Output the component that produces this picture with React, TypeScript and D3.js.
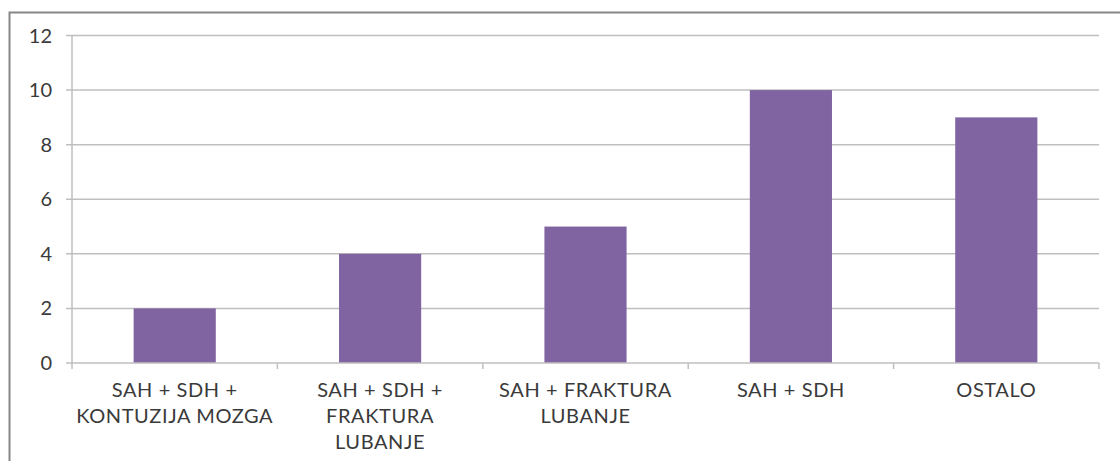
import React, { useRef, useEffect } from 'react';
import * as d3 from 'd3';

const categories = [
  ['SAH + SDH +', 'KONTUZIJA MOZGA'],
  ['SAH + SDH +', 'FRAKTURA', 'LUBANJE'],
  ['SAH + FRAKTURA', 'LUBANJE'],
  ['SAH + SDH'],
  ['OSTALO'],
];
const values = [2, 4, 5, 10, 9];
const yTicks = [0, 2, 4, 6, 8, 10, 12];

const WIDTH = 1120;
const HEIGHT = 461;

const App = () => {
  const svgRef = useRef<SVGSVGElement>(null);

  useEffect(() => {
    document.body.style.margin = '0';
    const svg = d3.select(svgRef.current);
    svg.selectAll('*').remove();

    const left = 72, right = 1099, top = 35.5, bottom = 363;
    const font = 'Lato, sans-serif';
    const textColor = '#3a3a3a';
    const gridColor = '#bfbfbf';

    // outer frame
    svg.append('rect')
      .attr('x', 9.5).attr('y', 12.5)
      .attr('width', WIDTH).attr('height', HEIGHT)
      .attr('fill', 'white')
      .attr('stroke', '#878787').attr('stroke-width', 2);

    const keys = categories.map((c, i) => String(i));
    const x = d3.scaleBand().domain(keys).range([left, right])
      .paddingInner(0.6).paddingOuter(0.3);
    const y = d3.scaleLinear().domain([0, 12]).range([bottom, top]);

    // grid
    svg.selectAll('.grid').data(yTicks.filter(t => t > 0)).enter().append('line')
      .attr('x1', left - 6).attr('x2', right)
      .attr('y1', d => y(d)).attr('y2', d => y(d))
      .attr('stroke', gridColor).attr('stroke-width', 1.5);

    // bars
    svg.selectAll('.bar').data(values).enter().append('rect')
      .attr('x', (d, i) => x(keys[i])!)
      .attr('width', x.bandwidth())
      .attr('y', d => y(d))
      .attr('height', d => y(0) - y(d))
      .attr('fill', '#8064a2');

    // y axis
    svg.append('line')
      .attr('x1', left).attr('x2', left).attr('y1', top).attr('y2', bottom)
      .attr('stroke', gridColor).attr('stroke-width', 1.5);
    svg.append('line')
      .attr('x1', left - 6).attr('x2', left).attr('y1', y(0)).attr('y2', y(0))
      .attr('stroke', gridColor).attr('stroke-width', 1.5);
    svg.selectAll('.ytl').data(yTicks).enter().append('text')
      .attr('x', 52).attr('y', d => y(d) + 7)
      .attr('text-anchor', 'end')
      .attr('font-family', font).attr('font-size', 20)
      .attr('fill', textColor)
      .text(d => d);

    // x axis
    svg.append('line')
      .attr('x1', left).attr('x2', right).attr('y1', bottom).attr('y2', bottom)
      .attr('stroke', gridColor).attr('stroke-width', 1.5);
    const step = x.step();
    const bounds = d3.range(keys.length + 1).map(i => left + i * step);
    svg.selectAll('.xt').data(bounds).enter().append('line')
      .attr('x1', d => d).attr('x2', d => d)
      .attr('y1', bottom).attr('y2', bottom + 6)
      .attr('stroke', gridColor).attr('stroke-width', 1.5);

    const labels = svg.selectAll('.xl').data(categories).enter().append('text')
      .attr('x', (d, i) => x(keys[i])! + x.bandwidth() / 2)
      .attr('y', 397)
      .attr('text-anchor', 'middle')
      .attr('font-family', font).attr('font-size', 20)
      .attr('letter-spacing', 0.6)
      .attr('fill', textColor);
    labels.selectAll('tspan').data(d => d).enter().append('tspan')
      .attr('x', function () { return (this.parentNode as SVGTextElement).getAttribute('x'); })
      .attr('dy', (d, i) => (i === 0 ? 0 : 26))
      .text(d => d);
  }, []);

  return <svg ref={svgRef} width={WIDTH} height={HEIGHT} style={{ display: 'block' }} />;
};

export default App;
